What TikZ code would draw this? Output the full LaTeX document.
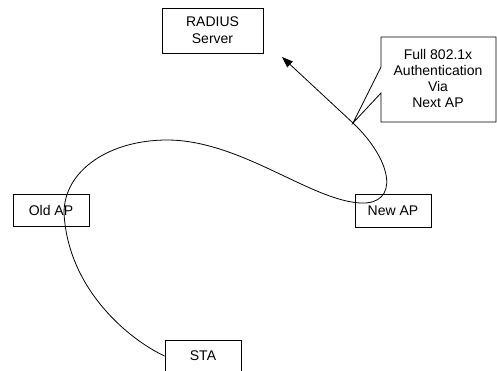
\documentclass[tikz,border=0pt]{standalone}
\usepackage{fontspec}
\setmainfont{Liberation Sans}
\usetikzlibrary{arrows.meta}
\begin{document}
\begin{tikzpicture}[x=1pt,y=-1pt,
  box/.style={draw, line width=0.8pt, inner sep=0pt, minimum width=76pt, minimum height=32pt,
              font=\fontsize{14}{17}\selectfont, align=center},
  lbl/.style={font=\fontsize{14}{16}\selectfont, align=center, inner sep=0pt},
  link/.style={line width=0.8pt}]
\useasboundingbox (0,0) rectangle (497,370);
\clip (0,0) rectangle (497,370);

\node[box, minimum width=101pt, minimum height=45pt] (radius) at (212.5,30.5) {RADIUS\\Server};
\node[box] (oldap) at (51,210) {Old AP};
\node[box, minimum height=33pt] (newap) at (393,210.5) {New AP};
\node[box] (sta) at (203,356) {STA};

% callout
\coordinate (tip) at (353,123);
\coordinate (arrowend) at (282,57);
\node[lbl] (callout) at (438,78) {Full 802.1x\\Authentication\\Via\\Next AP};
\draw[link] (381,37) -- (496,37) -- (496,122) -- (381,122) -- (381,93) -- (tip) -- (381,67) -- cycle;

% path of the station
\draw[link] (sta.west)
  .. controls (130,340) and (68,290) .. (64,213)
  .. controls (64,170) and (110,140) .. (167,140)
  .. controls (240,140) and (310,200) .. (360,203)
  .. controls (400,205) and (393,161) .. (tip);
\draw[link, -{Triangle[length=11pt,width=8pt]}] (tip) -- (arrowend);
\end{tikzpicture}
\end{document}
